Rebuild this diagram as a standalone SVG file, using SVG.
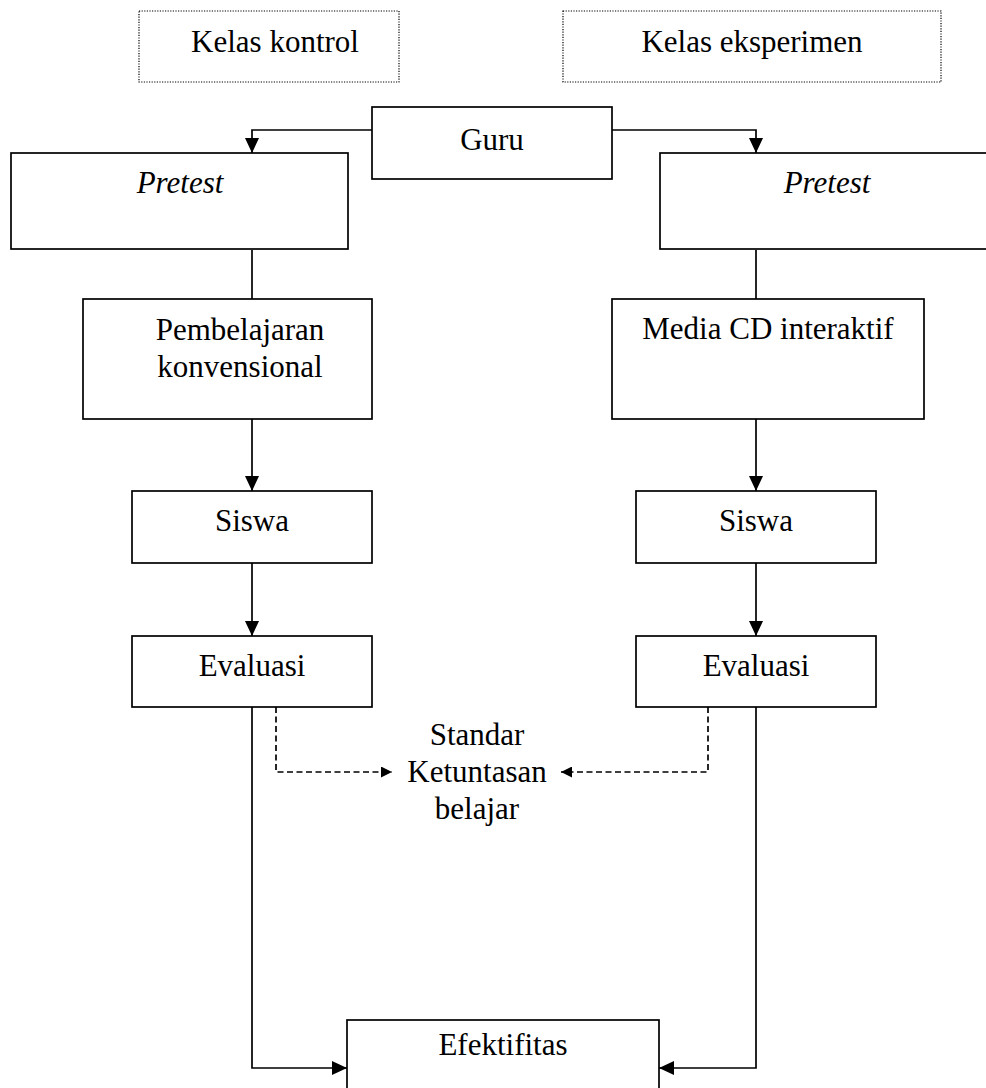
<svg xmlns="http://www.w3.org/2000/svg" width="986" height="1088" viewBox="0 0 986 1088">
<defs>
<style>
.box{fill:#fff;stroke:#000;stroke-width:1.7}
.dot{fill:#fff;stroke:#000;stroke-width:1.2;stroke-dasharray:1.2 1.4}
.t{font-family:"Liberation Serif","Times New Roman",serif;font-size:31px;fill:#000;text-anchor:middle}
.i{font-style:italic}
.ln{fill:none;stroke:#000;stroke-width:1.7}
.dl{fill:none;stroke:#000;stroke-width:1.7;stroke-dasharray:6 3.5}
</style>
<marker id="ah" viewBox="0 0 15 14" refX="15" refY="7" markerWidth="15" markerHeight="14" markerUnits="userSpaceOnUse" orient="auto">
<path d="M0,0 L15,7 L0,14 Z" fill="#000"/>
</marker>
<marker id="ahs" viewBox="0 0 10 10" refX="10" refY="5" markerWidth="11" markerHeight="11" markerUnits="userSpaceOnUse" orient="auto">
<path d="M0,0 L10,5 L0,10 Z" fill="#000"/>
</marker>
</defs>
<rect width="986" height="1088" fill="#fff"/>
<g id="connectors">
<path class="ln" d="M372,130 H252 V153" marker-end="url(#ah)"/>
<path class="ln" d="M612,130 H756 V153" marker-end="url(#ah)"/>
<path class="ln" d="M252,250 V299"/>
<path class="ln" d="M756,250 V299"/>
<path class="ln" d="M252,419 V491" marker-end="url(#ah)"/>
<path class="ln" d="M756,419 V491" marker-end="url(#ah)"/>
<path class="ln" d="M252,563 V636" marker-end="url(#ah)"/>
<path class="ln" d="M756,563 V636" marker-end="url(#ah)"/>
<path class="dl" d="M276,707 V772 H392" marker-end="url(#ahs)"/>
<path class="dl" d="M708,707 V772 H561" marker-end="url(#ahs)"/>
<path class="ln" d="M252,707 V1068 H347" marker-end="url(#ah)"/>
<path class="ln" d="M756,707 V1068 H659" marker-end="url(#ah)"/>
</g>
<g id="kelas-kontrol"><rect class="dot" x="139" y="11" width="260" height="71"/><text class="t" x="275" y="52">Kelas kontrol</text></g>
<g id="kelas-eksperimen"><rect class="dot" x="563" y="11" width="378" height="71"/><text class="t" x="752" y="52">Kelas eksperimen</text></g>
<g id="guru"><rect class="box" x="372" y="107" width="240" height="72"/><text class="t" x="492" y="150">Guru</text></g>
<g id="pretest-kontrol"><rect class="box" x="11" y="153" width="337" height="96"/><text class="t i" x="180" y="193">Pretest</text></g>
<g id="pretest-eksperimen"><rect class="box" x="660" y="153" width="340" height="96"/><text class="t i" x="827" y="193">Pretest</text></g>
<g id="pembelajaran"><rect class="box" x="83" y="299" width="289" height="120"/><text class="t" x="240" y="340">Pembelajaran</text><text class="t" x="240" y="377">konvensional</text></g>
<g id="media"><rect class="box" x="612" y="299" width="312" height="120"/><text class="t" x="768" y="339">Media CD interaktif</text></g>
<g id="siswa-kontrol"><rect class="box" x="132" y="491" width="240" height="72"/><text class="t" x="252" y="531">Siswa</text></g>
<g id="siswa-eksperimen"><rect class="box" x="636" y="491" width="240" height="72"/><text class="t" x="756" y="531">Siswa</text></g>
<g id="evaluasi-kontrol"><rect class="box" x="132" y="636" width="240" height="71"/><text class="t" x="252" y="676">Evaluasi</text></g>
<g id="evaluasi-eksperimen"><rect class="box" x="636" y="636" width="240" height="71"/><text class="t" x="756" y="676">Evaluasi</text></g>
<g id="standar"><text class="t" x="477" y="745">Standar</text><text class="t" x="477" y="782">Ketuntasan</text><text class="t" x="477" y="819">belajar</text></g>
<g id="efektifitas"><rect class="box" x="347" y="1020" width="312" height="80"/><text class="t" x="503" y="1055">Efektifitas</text></g>
</svg>
